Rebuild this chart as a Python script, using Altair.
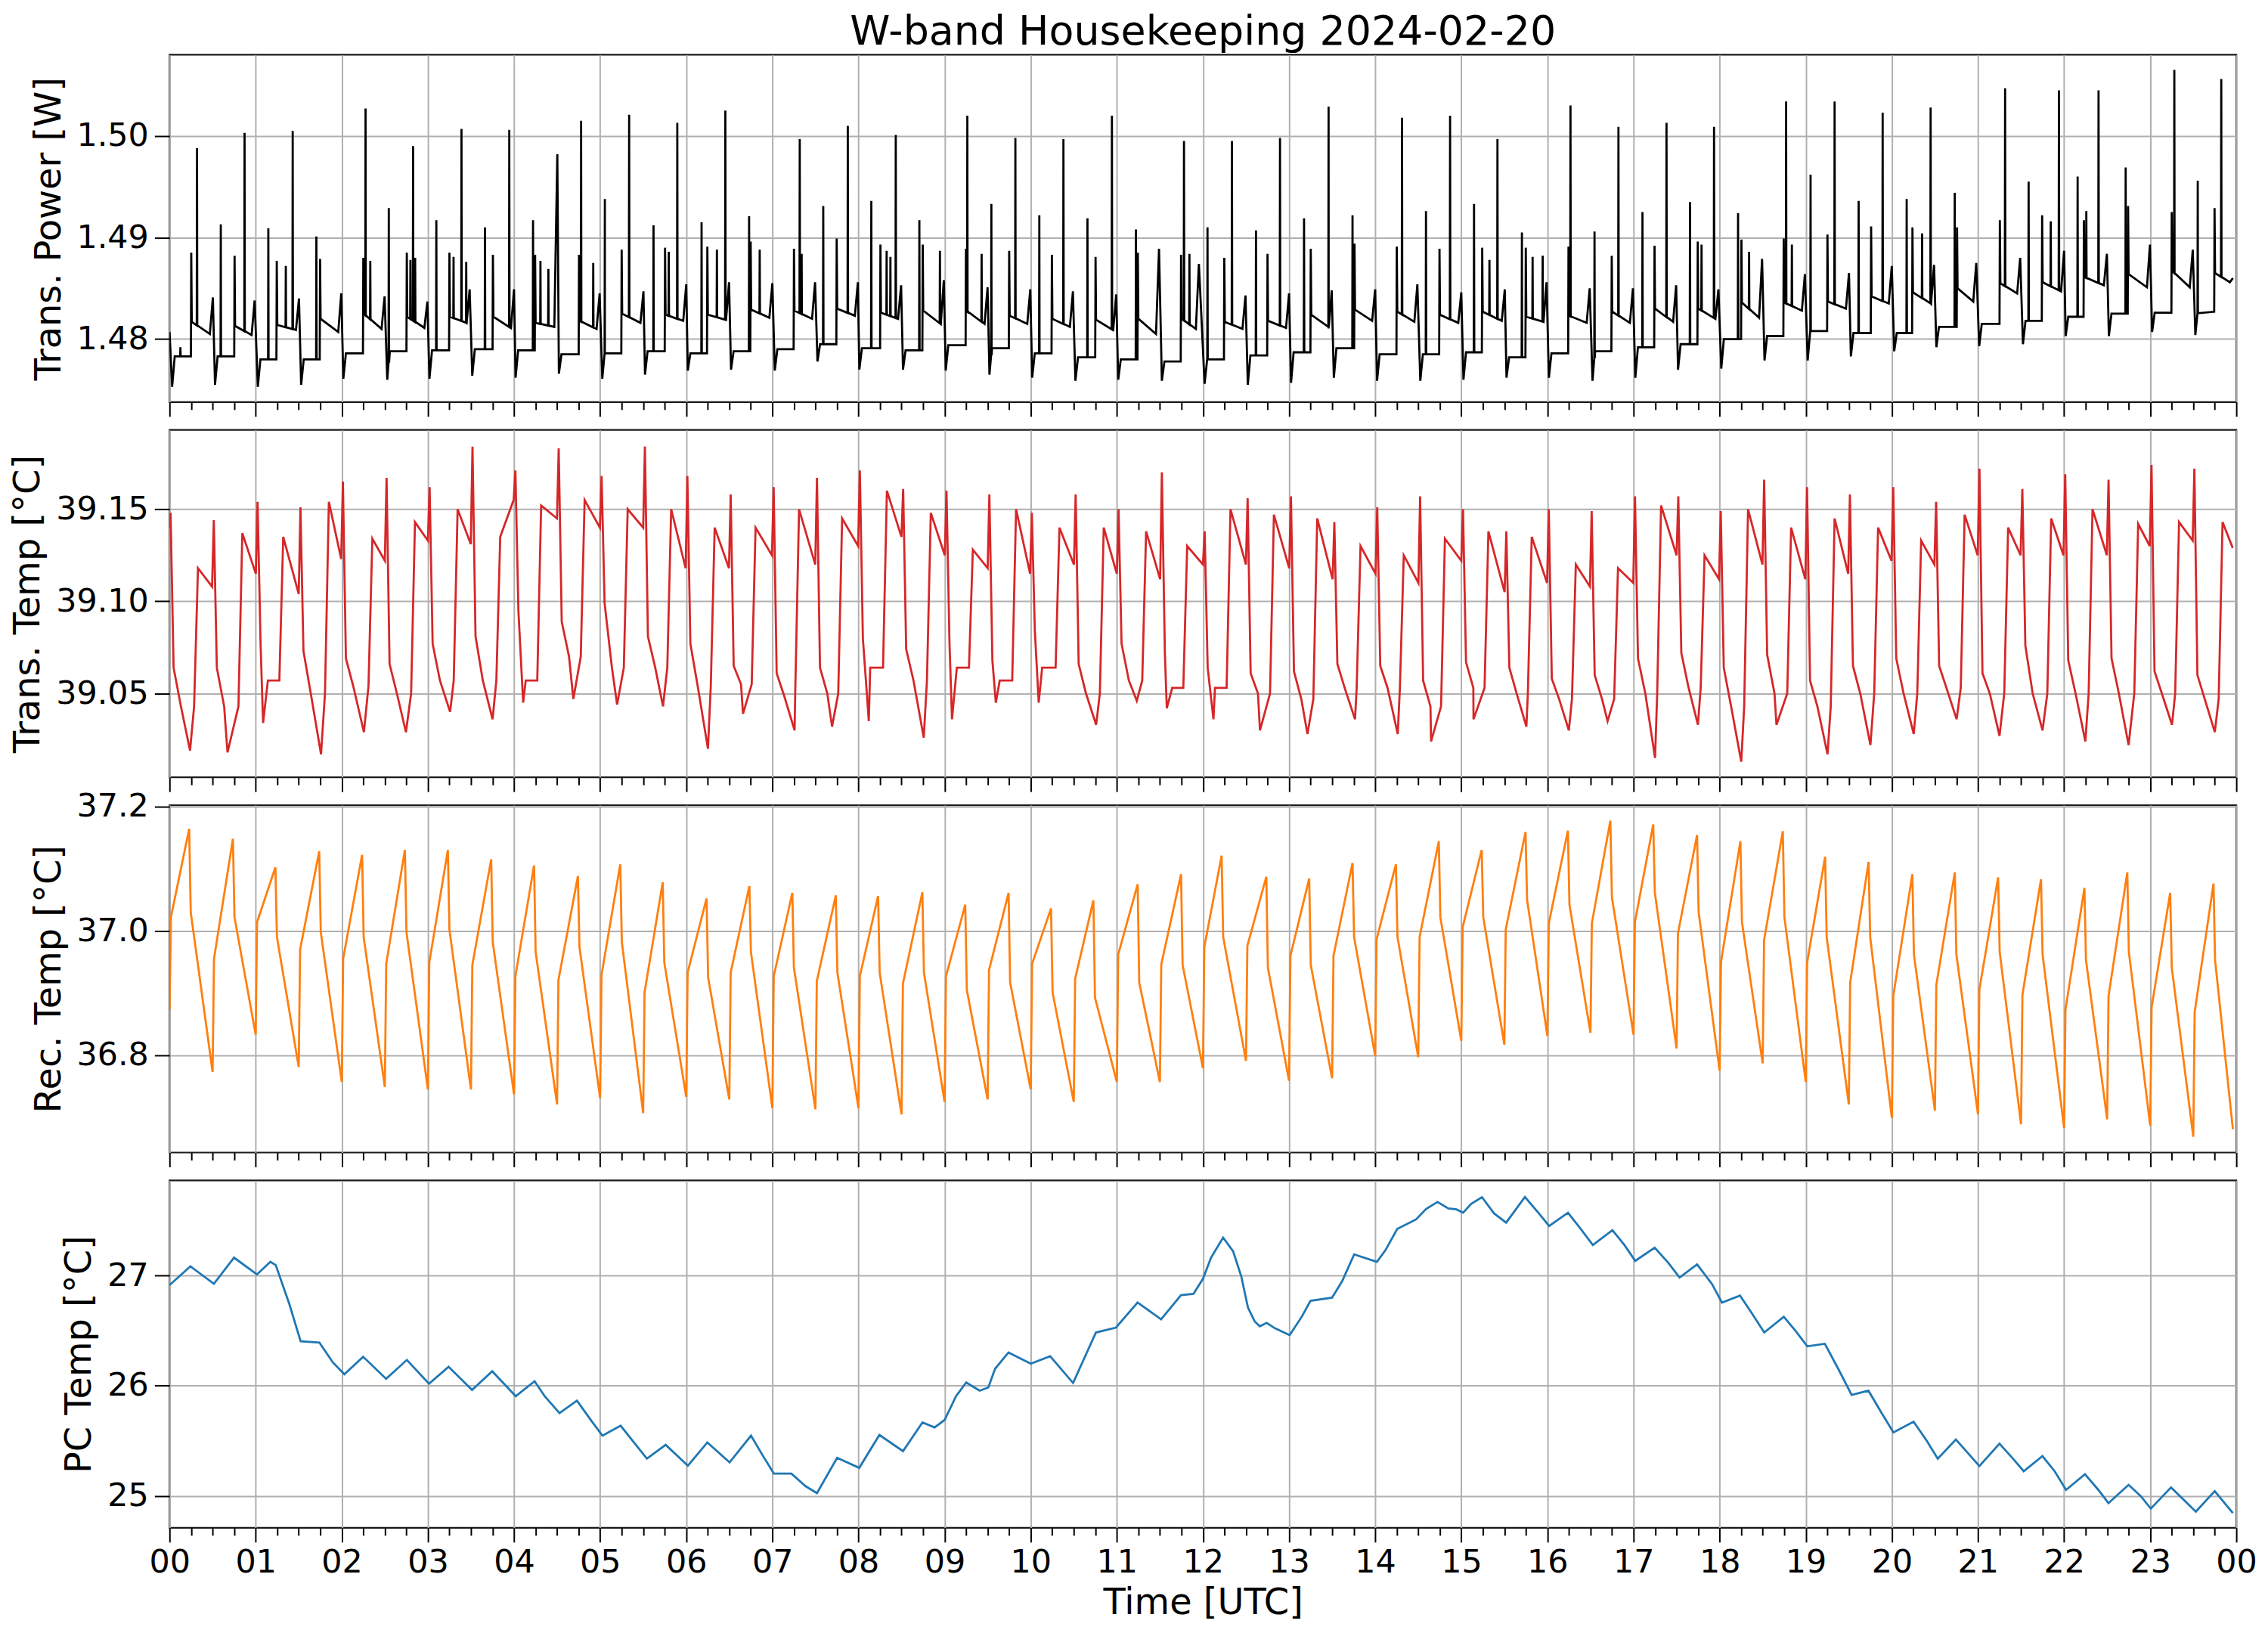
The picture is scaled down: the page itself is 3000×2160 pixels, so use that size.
import json
import numpy as np
import pandas as pd
import altair as alt

# ---------------- hour tick labels ----------------
hour_labels = ["00", "01", "02", "03", "04", "05", "06", "07", "08", "09", "10", "11",
               "12", "13", "14", "15", "16", "17", "18", "19", "20", "21", "22", "23", "00"]

# ---------------- Trans. Power [W] (black) ----------------
blk_start_v = 1.4807
blk_dip_t = [0.03, 0.528, 1.025, 1.528, 2.018, 2.528, 3.018, 3.515, 4.018, 4.521, 5.025, 5.521, 6.018, 6.52, 7.028, 7.524,
             8.01, 8.517, 9.013, 9.521, 10.017, 10.519, 11.016, 11.523, 12.019, 12.521, 13.023, 13.52, 14.022, 14.524, 15.025, 15.525,
             16.017, 16.524, 17.021, 17.517, 18.019, 18.521, 19.022, 19.524, 20.027, 20.517, 21.014, 21.522, 22.018, 22.52, 23.022, 23.524]
blk_dip_v = [1.4753, 1.4755, 1.4753, 1.4755, 1.4761, 1.4760, 1.4761, 1.4764, 1.4762, 1.4766,
             1.4761, 1.4765, 1.4769, 1.4770, 1.4769, 1.4778, 1.4770, 1.4770, 1.4769, 1.4765,
             1.4762, 1.4759, 1.4760, 1.4759, 1.4756, 1.4755, 1.4757, 1.4762, 1.4759, 1.4759,
             1.4760, 1.4762, 1.4762, 1.4759, 1.4762, 1.4770, 1.4771, 1.4779, 1.4779, 1.4783,
             1.4788, 1.4792, 1.4793, 1.4795, 1.4803, 1.4803, 1.4807, 1.4804]
blk_low_v = [1.4783, 1.4783, 1.4780, 1.4780, 1.4786, 1.4788, 1.4789, 1.4790, 1.4789, 1.4785,
             1.4786, 1.4788, 1.4786, 1.4788, 1.4790, 1.4795, 1.4791, 1.4789, 1.4794, 1.4791,
             1.4786, 1.4782, 1.4780, 1.4778, 1.4780, 1.4784, 1.4787, 1.4791, 1.4785, 1.4785,
             1.4787, 1.4782, 1.4786, 1.4788, 1.4792, 1.4795, 1.4800, 1.4803, 1.4808, 1.4806,
             1.4806, 1.4812, 1.4815, 1.4818, 1.4822, 1.4825, 1.4826, 1.4827]
blk_up_t = [0.252, 0.755, 1.245, 1.748, 2.25, 2.755, 3.25, 3.755, 4.245, 4.755,
            5.25, 5.754, 6.245, 6.748, 7.251, 7.747, 8.255, 8.746, 9.248, 9.75,
            10.246, 10.753, 11.244, 11.746, 12.248, 12.75, 13.252, 13.76, 14.251, 14.747,
            15.243, 15.749, 16.245, 16.747, 17.244, 17.746, 18.253, 18.744, 19.252, 19.759,
            20.239, 20.757, 21.254, 21.745, 22.23, 22.743, 23.25, 23.747]
blk_up_v = [1.4885, 1.4882, 1.4877, 1.4879, 1.4880, 1.4885, 1.4885, 1.4883, 1.4883, 1.4883,
            1.4888, 1.4890, 1.4891, 1.4896, 1.4889, 1.4899, 1.4893, 1.4893, 1.4889, 1.4887,
            1.4883, 1.4881, 1.4885, 1.4883, 1.4880, 1.4884, 1.4889, 1.4894, 1.4891, 1.4889,
            1.4890, 1.4890, 1.4891, 1.4882, 1.4892, 1.4896, 1.4898, 1.4899, 1.4903, 1.4911,
            1.4910, 1.4910, 1.4917, 1.4922, 1.4917, 1.4931, 1.4925, 1.4929]
blk_plat_a = [1.4817, 1.4813, 1.4814, 1.4820, 1.4825, 1.4822, 1.4822, 1.4822, 1.4816, 1.4818,
              1.4825, 1.4824, 1.4824, 1.4829, 1.4828, 1.4830, 1.4826, 1.4828, 1.4828, 1.4823,
              1.4820, 1.4819, 1.4820, 1.4820, 1.4817, 1.4818, 1.4824, 1.4829, 1.4827, 1.4824,
              1.4827, 1.4822, 1.4823, 1.4827, 1.4830, 1.4830, 1.4836, 1.4836, 1.4837, 1.4842,
              1.4846, 1.4850, 1.4855, 1.4856, 1.4861, 1.4864, 1.4867, 1.4865]
blk_plat_b = [1.4805, 1.4804, 1.4809, 1.4807, 1.4810, 1.4811, 1.4816, 1.4811, 1.4812, 1.4810,
              1.4816, 1.4818, 1.4819, 1.4821, 1.4820, 1.4823, 1.4820, 1.4815, 1.4815, 1.4815,
              1.4812, 1.4809, 1.4805, 1.4810, 1.4810, 1.4811, 1.4812, 1.4818, 1.4817, 1.4816,
              1.4818, 1.4817, 1.4816, 1.4816, 1.4817, 1.4820, 1.4821, 1.4828, 1.4830, 1.4835,
              1.4835, 1.4837, 1.4845, 1.4847, 1.4853, 1.4851, 1.4851, 1.4856]
blk_bump_t = [0.503, 0.988, 1.503, 1.994, 2.497, 2.994, 3.485, 4.0, 4.503, 4.994,
              5.503, 6.0, 6.497, 7.0, 7.496, 7.993, 8.495, 8.991, 9.499, 9.995,
              10.49, 10.993, 11.49, 11.953, 12.494, 13.0, 13.495, 14.0, 14.49, 15.0,
              15.505, 15.99, 16.491, 16.993, 17.495, 17.986, 18.493, 18.99, 19.502, 19.999,
              20.49, 20.98, 21.49, 22.0, 22.497, 22.997, 23.494, 23.96]
blk_bump_v = [1.4841, 1.4838, 1.4840, 1.4845, 1.4842, 1.4837, 1.4849, 1.4849, 1.4982, 1.4845,
              1.4847, 1.4854, 1.4856, 1.4855, 1.4856, 1.4856, 1.4853, 1.4858, 1.4851, 1.4849,
              1.4847, 1.4844, 1.4889, 1.4874, 1.4843, 1.4845, 1.4848, 1.4849, 1.4854, 1.4846,
              1.4849, 1.4856, 1.4850, 1.4850, 1.4853, 1.4849, 1.4879, 1.4864, 1.4865, 1.4872,
              1.4873, 1.4875, 1.4880, 1.4887, 1.4884, 1.4893, 1.4888, 1.4860]
blk_tall_t = [0.319, 0.871, 1.43, 2.276, 2.828, 3.39, 3.945, 4.779, 5.337, 5.896,
              6.454, 7.318, 7.876, 8.433, 9.264, 9.822, 10.38, 10.943, 11.78, 12.337,
              12.895, 13.459, 14.312, 14.87, 15.42, 16.268, 16.825, 17.383, 17.935, 18.772,
              19.335, 19.893, 20.45, 21.315, 21.94, 22.4, 23.28, 23.825]
blk_tall_v = [1.4988, 1.5003, 1.5005, 1.5027, 1.4990, 1.5007, 1.5006, 1.5015, 1.5021, 1.5013,
              1.5025, 1.4997, 1.5010, 1.5001, 1.5020, 1.4998, 1.4997, 1.5020, 1.4995, 1.4995,
              1.4998, 1.5029, 1.5018, 1.5020, 1.4997, 1.5030, 1.5009, 1.5013, 1.5009, 1.5034,
              1.5034, 1.5023, 1.5028, 1.5047, 1.5045, 1.5045, 1.5065, 1.5056]
blk_ext_t = [0.126, 0.595, 1.147, 1.35, 1.705, 2.331, 2.546, 2.797, 2.852, 3.098,
             3.298, 3.445, 3.663, 4.221, 4.307, 4.399, 4.92, 5.055, 5.62, 5.797,
             6.178, 6.356, 6.73, 6.853, 7.34, 7.591, 8.149, 8.327, 8.371, 8.707,
             8.946, 9.43, 9.543, 10.1, 10.659, 11.222, 11.843, 12.053, 12.616, 13.174,
             13.737, 14.59, 15.148, 15.327, 15.704, 15.828, 15.945, 16.547, 17.104, 17.656,
             17.79, 18.214, 18.342, 18.839, 19.056, 19.614, 20.172, 20.351, 20.73, 21.588,
             21.845, 22.157, 22.258, 22.715, 23.552]
blk_ext_v = [1.4792, 1.4913, 1.4909, 1.4872, 1.4901, 1.4877, 1.4929, 1.4878, 1.4880, 1.4917,
             1.4881, 1.4876, 1.4910, 1.4917, 1.4877, 1.4869, 1.4875, 1.4938, 1.4912, 1.4886,
             1.4915, 1.4888, 1.4921, 1.4888, 1.4884, 1.4931, 1.4936, 1.4887, 1.4881, 1.4917,
             1.4887, 1.4884, 1.4933, 1.4922, 1.4919, 1.4908, 1.4884, 1.4910, 1.4907, 1.4919,
             1.4922, 1.4926, 1.4933, 1.4878, 1.4905, 1.4881, 1.4882, 1.4906, 1.4925, 1.4935,
             1.4893, 1.4924, 1.4886, 1.4893, 1.4962, 1.4936, 1.4938, 1.4904, 1.4944, 1.4955,
             1.4916, 1.4960, 1.4926, 1.4969, 1.4956]

# ---------------- Trans. Temp [°C] (red) ----------------
red_start_v = 39.140
red_spk_t = [0.012, 0.514, 1.022, 1.52, 2.013, 2.52, 3.02, 3.518, 4.016, 4.519, 5.017, 5.52, 6.013, 6.516, 7.015, 7.518,
             8.016, 8.519, 9.022, 9.52, 10.013, 10.522, 11.02, 11.523, 12.02, 12.519, 13.022, 13.526, 14.024, 14.522, 15.02, 15.523,
             16.016, 16.514, 17.017, 17.52, 18.013, 18.517, 19.015, 19.513, 20.016, 20.514, 21.017, 21.515, 22.013, 22.516, 23.015, 23.513]
red_spk_v = [39.148, 39.144, 39.154, 39.151, 39.165, 39.167, 39.162, 39.184, 39.171, 39.183,
             39.168, 39.184, 39.168, 39.158, 39.162, 39.167, 39.171, 39.161, 39.160, 39.158,
             39.148, 39.158, 39.150, 39.170, 39.138, 39.156, 39.157, 39.143, 39.151, 39.157,
             39.150, 39.138, 39.150, 39.149, 39.157, 39.157, 39.149, 39.166, 39.162, 39.158,
             39.162, 39.154, 39.172, 39.161, 39.169, 39.166, 39.174, 39.172]
red_lhi = [39.064, 39.064, 39.077, 39.073, 39.069, 39.066, 39.077, 39.081, 39.095, 39.089,
           39.099, 39.081, 39.077, 39.065, 39.061, 39.064, 39.080, 39.074, 39.077, 39.068,
           39.084, 39.066, 39.077, 39.072, 39.064, 39.061, 39.062, 39.066, 39.065, 39.057,
           39.067, 39.064, 39.058, 39.060, 39.069, 39.072, 39.064, 39.071, 39.057, 39.065,
           39.069, 39.065, 39.061, 39.076, 39.068, 39.069, 39.062, 39.060]
red_lt = [39.043, 39.043, 39.057, 39.050, 39.054, 39.050, 39.057, 39.057, 39.057, 39.070,
          39.064, 39.064, 39.054, 39.055, 39.049, 39.050, 39.064, 39.057, 39.064, 39.057,
          39.064, 39.050, 39.057, 39.053, 39.053, 39.050, 39.047, 39.053, 39.053, 39.043,
          39.053, 39.050, 39.047, 39.047, 39.050, 39.053, 39.043, 39.050, 39.043, 39.050,
          39.050, 39.053, 39.050, 39.050, 39.050, 39.050, 39.050, 39.047]
red_lmin = [39.019, 39.018, 39.034, 39.017, 39.029, 39.029, 39.040, 39.036, 39.045, 39.047,
            39.044, 39.043, 39.020, 39.039, 39.030, 39.032, 39.035, 39.026, 39.036, 39.045,
            39.045, 39.033, 39.046, 39.042, 39.036, 39.030, 39.028, 39.036, 39.028, 39.024,
            39.036, 39.032, 39.030, 39.035, 39.015, 39.033, 39.013, 39.033, 39.017, 39.022,
            39.028, 39.036, 39.027, 39.030, 39.024, 39.022, 39.033, 39.029]
red_lmin_t = [0.238, 0.673, 1.086, 1.759, 2.257, 2.745, 3.258, 3.751, 4.106, 4.689,
              5.197, 5.73, 6.252, 6.659, 7.258, 7.693, 8.12, 8.758, 9.086, 9.595,
              10.093, 10.76, 11.232, 11.58, 12.122, 12.662, 13.214, 13.766, 14.262, 14.649,
              15.142, 15.756, 16.249, 16.699, 17.25, 17.748, 18.251, 18.66, 19.253, 19.751,
              20.254, 20.752, 21.25, 21.75, 22.247, 22.749, 23.253, 23.75]
red_rise_t = [0.29, 0.805, 1.28, 1.81, 2.315, 2.81, 3.305, 3.80, 4.275, 4.78,
              5.28, 5.785, 6.29, 6.765, 7.27, 7.77, 8.29, 8.80, 9.288, 9.79,
              10.294, 10.808, 11.30, 11.777, 12.28, 12.784, 13.287, 13.79, 14.292, 14.77,
              15.275, 15.778, 16.29, 16.78, 17.28, 17.785, 18.29, 18.79, 19.295, 19.80,
              20.30, 20.805, 21.31, 21.81, 22.29, 22.82, 23.295, 23.80]
red_ha = [39.118, 39.137, 39.135, 39.154, 39.134, 39.143, 39.150, 39.135, 39.152, 39.155,
          39.150, 39.150, 39.140, 39.140, 39.150, 39.145, 39.160, 39.148, 39.128, 39.150,
          39.140, 39.140, 39.138, 39.130, 39.150, 39.147, 39.145, 39.130, 39.125, 39.134,
          39.138, 39.135, 39.120, 39.118, 39.152, 39.125, 39.150, 39.140, 39.145, 39.140,
          39.133, 39.147, 39.140, 39.145, 39.150, 39.142, 39.143, 39.143]
red_he = [39.108, 39.115, 39.104, 39.123, 39.122, 39.133, 39.131, 39.155, 39.145, 39.140,
          39.140, 39.118, 39.118, 39.125, 39.120, 39.130, 39.135, 39.125, 39.118, 39.115,
          39.120, 39.115, 39.112, 39.120, 39.120, 39.118, 39.112, 39.115, 39.110, 39.122,
          39.105, 39.110, 39.108, 39.110, 39.125, 39.112, 39.120, 39.112, 39.115, 39.122,
          39.120, 39.125, 39.125, 39.125, 39.125, 39.130, 39.133, 39.129]
red_end_t = 23.958

# ---------------- Rec. Temp [°C] (orange) ----------------
or_trough_t = [0.0, 0.5, 1.0, 1.5, 2.0, 2.5, 3.0, 3.5, 4.0, 4.5, 5.0, 5.5, 6.0, 6.5, 7.0, 7.5,
               8.0, 8.5, 9.0, 9.5, 10.0, 10.5, 11.0, 11.5, 12.0, 12.5, 13.0, 13.5, 14.0, 14.5, 15.0, 15.5,
               16.0, 16.5, 17.0, 17.5, 18.0, 18.5, 19.0, 19.5, 20.0, 20.5, 21.0, 21.5, 22.0, 22.5, 23.0, 23.5]
or_trough_v = [36.873, 36.773, 36.833, 36.781, 36.757, 36.749, 36.745, 36.745, 36.737, 36.721,
               36.731, 36.707, 36.733, 36.729, 36.715, 36.713, 36.715, 36.705, 36.725, 36.729,
               36.745, 36.725, 36.757, 36.757, 36.779, 36.791, 36.759, 36.763, 36.799, 36.797,
               36.823, 36.817, 36.831, 36.836, 36.833, 36.811, 36.775, 36.787, 36.757, 36.721,
               36.699, 36.711, 36.705, 36.689, 36.683, 36.697, 36.687, 36.669]
or_jump_v = [37.022, 36.955, 37.014, 36.970, 36.955, 36.947, 36.949, 36.945, 36.927, 36.921,
             36.929, 36.901, 36.933, 36.933, 36.927, 36.919, 36.927, 36.915, 36.927, 36.937,
             36.947, 36.923, 36.962, 36.946, 36.974, 36.976, 36.960, 36.960, 36.986, 36.990,
             37.006, 37.002, 37.012, 37.012, 37.014, 36.996, 36.950, 36.985, 36.949, 36.917,
             36.895, 36.913, 36.905, 36.897, 36.873, 36.895, 36.877, 36.869]
or_peak_t = [0.228, 0.736, 1.229, 1.738, 2.236, 2.733, 3.232, 3.735, 4.233, 4.742, 5.234, 5.727, 6.236, 6.733, 7.232, 7.737,
             8.228, 8.742, 9.24, 9.743, 10.236, 10.728, 11.242, 11.746, 12.217, 12.736, 13.234, 13.737, 14.241, 14.739, 15.237, 15.746,
             16.238, 16.731, 17.229, 17.738, 18.241, 18.734, 19.225, 19.73, 20.238, 20.731, 21.234, 21.732, 22.236, 22.734, 23.232, 23.735]
or_peak_v = [37.164, 37.148, 37.102, 37.128, 37.122, 37.130, 37.130, 37.115, 37.105, 37.088,
             37.107, 37.078, 37.052, 37.072, 37.061, 37.057, 37.056, 37.062, 37.042, 37.061,
             37.036, 37.049, 37.075, 37.091, 37.121, 37.087, 37.084, 37.109, 37.107, 37.144,
             37.130, 37.159, 37.161, 37.177, 37.171, 37.154, 37.144, 37.160, 37.119, 37.111,
             37.091, 37.094, 37.086, 37.083, 37.069, 37.094, 37.061, 37.076]
or_drop_v = [37.030, 37.022, 36.990, 36.998, 36.990, 36.998, 37.002, 36.982, 36.966, 36.974,
             36.982, 36.949, 36.925, 36.966, 36.941, 36.933, 36.933, 36.933, 36.905, 36.917,
             36.901, 36.893, 36.917, 36.945, 36.990, 36.941, 36.945, 36.990, 36.990, 37.022,
             37.022, 37.050, 37.042, 37.054, 37.062, 37.030, 37.014, 37.022, 36.990, 36.990,
             36.962, 36.962, 36.966, 36.962, 36.953, 36.966, 36.941, 36.953]
or_end_t, or_end_v = 23.96, 36.681

# ---------------- PC Temp [°C] (blue) ----------------
pc_t = [0.0, 0.242, 0.515, 0.749, 1.015, 1.171, 1.233, 1.39, 1.522, 1.74,
        1.897, 2.03, 2.248, 2.514, 2.756, 3.013, 3.24, 3.513, 3.747, 4.02,
        4.239, 4.356, 4.528, 4.731, 4.902, 5.027, 5.238, 5.543, 5.761, 6.019,
        6.245, 6.503, 6.752, 6.893, 7.018, 7.221, 7.385, 7.518, 7.752, 8.009,
        8.243, 8.517, 8.743, 8.884, 9.0, 9.133, 9.251, 9.407, 9.508, 9.586,
        9.742, 10.0, 10.226, 10.492, 10.757, 10.99, 11.241, 11.514, 11.745, 11.89,
        12.0, 12.094, 12.234, 12.351, 12.445, 12.523, 12.60, 12.66, 12.74, 12.835,
        13.007, 13.15, 13.249, 13.499, 13.616, 13.756, 14.02, 14.12, 14.256, 14.475,
        14.592, 14.724, 14.849, 14.943, 15.021, 15.115, 15.24, 15.38, 15.521, 15.739,
        15.895, 16.02, 16.239, 16.364, 16.528, 16.755, 16.895, 17.02, 17.246, 17.402,
        17.535, 17.738, 17.91, 18.027, 18.237, 18.378, 18.518, 18.745, 18.885, 19.018,
        19.221, 19.377, 19.533, 19.728, 19.877, 20.018, 20.252, 20.408, 20.533, 20.743,
        20.89, 21.016, 21.25, 21.406, 21.531, 21.749, 21.89, 22.023, 22.242, 22.398,
        22.515, 22.749, 22.89, 23.007, 23.242, 23.375, 23.53, 23.749, 23.96]
pc_v = [26.914, 27.084, 26.925, 27.163, 27.011, 27.125, 27.095, 26.744, 26.404, 26.392,
        26.211, 26.104, 26.263, 26.063, 26.234, 26.018, 26.172, 25.961, 26.132, 25.905,
        26.041, 25.905, 25.751, 25.864, 25.678, 25.546, 25.637, 25.338, 25.463, 25.274,
        25.485, 25.304, 25.546, 25.36, 25.202, 25.202, 25.088, 25.025, 25.345, 25.254,
        25.553, 25.406, 25.667, 25.621, 25.689, 25.905, 26.029, 25.955, 25.984, 26.154,
        26.302, 26.2, 26.268, 26.025, 26.483, 26.528, 26.755, 26.603, 26.823, 26.834,
        26.97, 27.163, 27.345, 27.22, 26.993, 26.71, 26.585, 26.54, 26.571, 26.522,
        26.46, 26.63, 26.771, 26.8, 26.948, 27.193, 27.125, 27.231, 27.424, 27.51,
        27.605, 27.669, 27.61, 27.601, 27.571, 27.651, 27.712, 27.565, 27.481, 27.714,
        27.571, 27.451, 27.571, 27.447, 27.277, 27.413, 27.277, 27.134, 27.254, 27.118,
        26.982, 27.102, 26.925, 26.755, 26.819, 26.653, 26.483, 26.626, 26.494, 26.358,
        26.381, 26.154, 25.916, 25.955, 25.757, 25.576, 25.673, 25.497, 25.338, 25.512,
        25.383, 25.27, 25.474, 25.338, 25.224, 25.361, 25.224, 25.054, 25.197, 25.054,
        24.934, 25.1, 24.998, 24.884, 25.077, 24.975, 24.857, 25.043, 24.844]

# ---------------- sanity checks ----------------
for arr in [blk_dip_t, blk_dip_v, blk_low_v, blk_up_t, blk_up_v, blk_plat_a, blk_plat_b, blk_bump_t, blk_bump_v,
            red_spk_t, red_spk_v, red_lhi, red_lt, red_lmin, red_lmin_t, red_rise_t, red_ha, red_he,
            or_trough_t, or_trough_v, or_jump_v, or_peak_t, or_peak_v, or_drop_v]:
    assert len(arr) == 48, len(arr)
assert len(blk_tall_t) == len(blk_tall_v)
assert len(blk_ext_t) == len(blk_ext_v)
assert len(pc_t) == len(pc_v)

# ---------------- assemble polylines from the read vertices ----------------
def build_black():
    pts = [(0.0, blk_start_v)]
    for k in range(48):
        pts += [(blk_dip_t[k], blk_dip_v[k]), (blk_dip_t[k] + 0.03, blk_low_v[k]),
                (blk_up_t[k] - 0.004, blk_low_v[k]), (blk_up_t[k], blk_up_v[k]),
                (blk_up_t[k] + 0.006, blk_plat_a[k]), (blk_bump_t[k] - 0.035, blk_plat_b[k]),
                (blk_bump_t[k], blk_bump_v[k])]
    pts.sort()
    bt = np.array([p[0] for p in pts]); bv = np.array([p[1] for p in pts])
    for t, v in list(zip(blk_tall_t, blk_tall_v)) + list(zip(blk_ext_t, blk_ext_v)):
        base = float(np.interp(t, bt, bv))
        pts += [(t - 0.003, base), (t, v), (t + 0.003, base)]
    pts.sort()
    return pd.DataFrame(pts, columns=["t", "v"])


def build_red():
    pts = [(0.0, red_start_v)]
    for k in range(48):
        s = red_spk_t[k]
        pts += [(s, red_spk_v[k]), (s + 0.035, red_lhi[k]), (s + 0.12, red_lt[k]),
                (red_lmin_t[k], red_lmin[k]), (red_rise_t[k] - 0.005, red_lt[k]),
                (red_rise_t[k] + 0.04, red_ha[k])]
        end = red_spk_t[k + 1] - 0.02 if k < 47 else red_end_t
        pts.append((end, red_he[k]))
    pts.sort()
    return pd.DataFrame(pts, columns=["t", "v"])


def build_orange():
    pts = []
    for k in range(48):
        pts += [(or_trough_t[k], or_trough_v[k]), (or_trough_t[k] + 0.016, or_jump_v[k]),
                (or_peak_t[k], or_peak_v[k]), (or_peak_t[k] + 0.018, or_drop_v[k])]
    pts.append((or_end_t, or_end_v))
    pts.sort()
    return pd.DataFrame(pts, columns=["t", "v"])


df_blk = build_black()
df_red = build_red()
df_or = build_orange()
df_pc = pd.DataFrame({"t": pc_t, "v": pc_v})

# ---------------- chart ----------------
W, H = 2743, 461
FONT = "DejaVu Sans"
xticks = [i * 0.25 for i in range(97)]
is_major = "datum.value % 1 == 0"
label_expr = f"{is_major} ? {json.dumps(hour_labels)}[round(datum.value)] : ''"


def x_axis(bottom):
    kw = dict(values=xticks, tickSize={"condition": {"test": is_major, "value": 19}, "value": 10},
              tickWidth=2, tickColor="black", grid=True, gridColor="#b0b0b0", gridWidth=2,
              gridOpacity={"condition": {"test": is_major, "value": 1}, "value": 0},
              domain=False, orient="bottom")
    if bottom:
        kw.update(labels=True, labelExpr=label_expr, labelFlush=False, labelOverlap=False,
                  labelPadding=6, labelFontSize=43, labelFont=FONT, labelColor="black",
                  title="Time [UTC]", titleFontSize=48, titleFont=FONT, titleFontWeight="normal",
                  titleColor="black", titlePadding=8)
    else:
        kw.update(labels=False, title=None)
    return alt.Axis(**kw)


def panel(df, color, ydom, yvals, yfmt, ytitle, bottom=False, title=None):
    ch = alt.Chart(df).mark_line(color=color, strokeWidth=2.8, clip=True).encode(
        x=alt.X("t:Q", scale=alt.Scale(domain=[0, 24], nice=False, zero=False), axis=x_axis(bottom)),
        y=alt.Y("v:Q", scale=alt.Scale(domain=ydom, nice=False, zero=False),
                axis=alt.Axis(values=yvals, format=yfmt, title=ytitle, tickSize=20, tickWidth=2,
                              tickColor="black", labelFontSize=43, labelFont=FONT, labelColor="black",
                              labelPadding=8, titleFontSize=48, titleFont=FONT, titleFontWeight="normal",
                              titleColor="black", titlePadding=12, grid=True, gridColor="#b0b0b0",
                              gridWidth=2, domain=False)),
        order=alt.Order("t:Q"),
    )
    props = dict(width=W, height=H)
    if title is not None:
        props["title"] = alt.TitleParams(title, anchor="middle", frame="group", offset=2, fontSize=54,
                                         font=FONT, fontWeight="normal", color="black")
    return ch.properties(**props)


p1 = panel(df_blk, "#000000", [1.4738, 1.5080], [1.48, 1.49, 1.50], ".2f", "Trans. Power [W]",
           title="W-band Housekeeping 2024-02-20")
p2 = panel(df_red, "#d62728", [39.0045, 39.193], [39.05, 39.10, 39.15], ".2f", "Trans. Temp [°C]")
p3 = panel(df_or, "#ff7f0e", [36.6435, 37.202], [36.8, 37.0, 37.2], ".1f", "Rec. Temp [°C]")
p4 = panel(df_pc, "#1f77b4", [24.710, 27.864], [25, 26, 27], "d", "PC Temp [°C]", bottom=True)

chart = alt.vconcat(p1, p2, p3, p4, spacing=37, bounds="flush").properties(
    padding={"left": 4, "top": 3, "right": 5, "bottom": 2}
).configure(font=FONT).configure_view(stroke="#1a1a1a", strokeWidth=2.2)

chart.save("out.html", embed_options={"renderer": "svg", "actions": False})
